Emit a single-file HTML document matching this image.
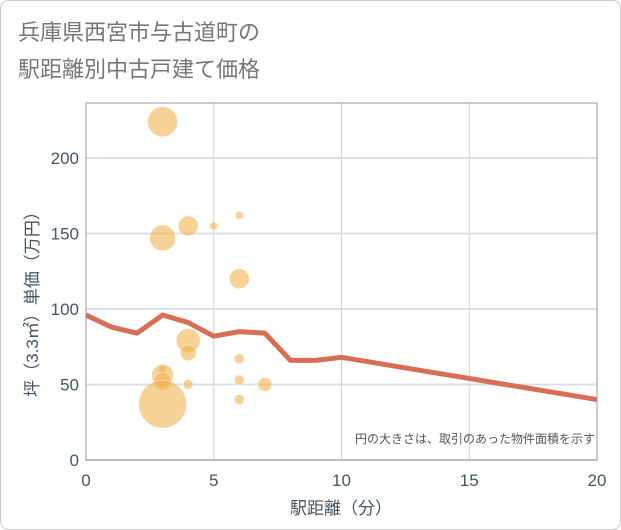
<!DOCTYPE html>
<html><head><meta charset="utf-8"><style>
body{margin:0;background:#fff;font-family:"Liberation Sans","Noto Sans CJK JP",sans-serif}
#wrap{position:relative;width:621px;height:530px;overflow:hidden}
</style></head><body>
<div id="wrap">
<svg id="chart" width="621" height="530" xmlns="http://www.w3.org/2000/svg">
<rect x="0.5" y="0.5" width="620" height="529" rx="8" fill="#fff" stroke="#ccc"/>
<text x="18" y="40" font-size="22" fill="#777" font-family="Liberation Sans,Noto Sans CJK JP,sans-serif">兵庫県西宮市与古道町の</text>
<text x="18" y="77" font-size="22" fill="#777" font-family="Liberation Sans,Noto Sans CJK JP,sans-serif">駅距離別中古戸建て価格</text>
<g id="grid"></g><g id="marks"></g><g id="axes"></g>
<text x="595" y="443" font-size="12" fill="#555" text-anchor="end" font-family="Liberation Sans,Noto Sans CJK JP,sans-serif">円の大きさは、取引のあった物件面積を示す</text>
<text x="341" y="514" font-size="17" fill="#456" text-anchor="middle" font-family="Liberation Sans,Noto Sans CJK JP,sans-serif">駅距離（分）</text>
<text transform="translate(38,300) rotate(-90)" font-size="17" fill="#456" text-anchor="middle" font-family="Liberation Sans,Noto Sans CJK JP,sans-serif">坪（3.3㎡）単価（万円）</text>
</svg></div>
<script>
const xTicks=[0,5,10,15,20];
const yTicks=[0,50,100,150,200];
const lineX=[0,1,2,3,4,5,6,7,8,9,10,20];
const lineY=[96,88,84,96,91,82,85,84,66,66,68,40];
const bubX=[3,3,4,5,6,6,4,4,3,3,3,4,3,6,6,7,6];
const bubY=[224,147,155,155,162,120,79,71,60,56,52,50,37,67,53,50,40];
const bubR=[15,13,10,4,4,10,12,8,4,11,9,5,24,5,5,7,5];
const L=86,R=597,T=103,B=460;
const sx=v=>L+(v-0)/(20-0)*(R-L);
const sy=v=>B-(v-0)/(236.4-0)*(B-T);
const NS="http://www.w3.org/2000/svg";
function mk(tag,attrs,parent){const e=document.createElementNS(NS,tag);for(const k in attrs)e.setAttribute(k,attrs[k]);parent.appendChild(e);return e;}
const grid=document.getElementById('grid'),marks=document.getElementById('marks'),axes=document.getElementById('axes');
xTicks.forEach(t=>{
 const g=mk('line',{x1:sx(t),x2:sx(t),y1:T,y2:B,stroke:'#c8d4e0','stroke-width':1},grid);
 
 
 const tx=mk('text',{x:sx(t),y:486,'font-size':17,fill:'#456','text-anchor':'middle'},axes);
 tx.textContent=t;
 
 
});
yTicks.forEach(t=>{
 const g=mk('line',{x1:L,x2:R,y1:sy(t),y2:sy(t),stroke:'#d5e0ea','stroke-width':2},grid);
 
 
 const tx=mk('text',{x:79,y:sy(t)+6,'font-size':17,fill:'#456','text-anchor':'end'},axes);
 tx.textContent=t;
 
 
});
const fr=mk('rect',{x:L,y:T,width:R-L,height:B-T,fill:'none',stroke:'#999','stroke-width':1},axes);


bubX.forEach((x,i)=>{
 const c=mk('circle',{cx:sx(x),cy:sy(bubY[i]),r:bubR[i],fill:'rgba(240,180,80,0.6)',stroke:'#fff','stroke-width':0.5},marks);
 
 
});
const p=mk('polyline',{points:lineX.map((x,i)=>sx(x)+','+sy(lineY[i])).join(' '),fill:'none',stroke:'#d86e56','stroke-width':5,'stroke-linejoin':'round'},marks);


</script>
</body></html>
